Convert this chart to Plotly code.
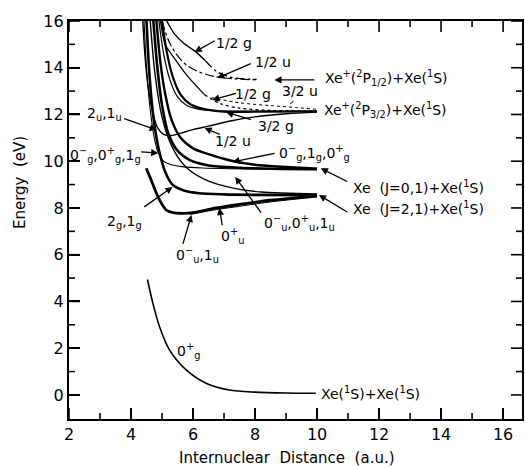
import plotly.graph_objects as go

# ---------------- data ----------------
ground_x = [4.53, 4.7, 4.92, 5.24, 5.78, 6.42, 7.17, 8.0, 9.0, 9.96]
ground_y = [4.94, 3.95, 2.92, 1.93, 1.07, 0.5, 0.21, 0.12, 0.08, 0.07]

bound_0u1u_x = [4.49, 4.65, 4.82, 4.98, 5.14, 5.35, 5.67, 6.0, 6.75, 7.5, 8.5, 10.0]
bound_0u1u_y = [9.7, 9.2, 8.63, 8.2, 7.91, 7.8, 7.77, 7.8, 8.0, 8.15, 8.33, 8.52]
thin_0u_x = [5.9, 6.75, 7.5, 8.5, 10.0]
thin_0u_y = [7.72, 7.93, 8.07, 8.26, 8.47]
rep_2g1g_x = [4.5, 4.6, 4.75, 4.95, 5.15, 5.35, 5.7, 6.2, 7.0, 8.0, 10.0]
rep_2g1g_y = [16.0, 13.6, 11.6, 10.2, 9.4, 8.98, 8.75, 8.63, 8.58, 8.56, 8.55]
rep_0u_x = [4.62, 4.75, 4.95, 5.2, 5.5, 5.9, 6.5, 7.3, 8.2, 10.0]
rep_0u_y = [16.0, 14.0, 12.2, 11.0, 10.2, 9.6, 9.15, 8.85, 8.68, 8.6]

rep_0g_a_x = [4.42, 4.5, 4.62, 4.75, 4.88, 5.05, 5.3, 5.7, 6.3, 7.2, 8.5, 10.0]
rep_0g_a_y = [16.0, 14.0, 12.2, 11.0, 10.35, 10.0, 9.85, 9.76, 9.71, 9.68, 9.66, 9.65]
rep_0g_b_x = [4.72, 4.85, 5.0, 5.2, 5.5, 5.9, 6.5, 7.5, 8.5, 10.0]
rep_0g_b_y = [16.0, 14.0, 12.4, 11.2, 10.45, 10.05, 9.82, 9.72, 9.68, 9.66]
rep_0g_c_x = [4.82, 4.95, 5.1, 5.3, 5.6, 6.0, 6.5, 7.2, 8.0, 10.0]
rep_0g_c_y = [16.0, 14.2, 12.9, 11.8, 11.0, 10.55, 10.3, 10.03, 9.85, 9.68]

bound_2u1u_x = [4.38, 4.45, 4.55, 4.7, 4.85, 5.05, 5.3, 5.6, 6.0, 6.5, 7.2, 8.0, 9.0, 10.0]
bound_2u1u_y = [16.0, 14.5, 13.2, 12.1, 11.45, 11.15, 11.1, 11.2, 11.35, 11.5, 11.72, 11.9, 12.03, 12.1]
rep_half_u_x = [4.9, 5.05, 5.25, 5.5, 5.8, 6.2, 6.8, 7.5, 8.5, 10.0]
rep_half_u_y = [16.0, 14.6, 13.5, 12.75, 12.38, 12.22, 12.16, 12.14, 12.13, 12.13]
rep_3g_x = [5.0, 5.15, 5.35, 5.6, 5.9, 6.3, 7.0, 8.0, 10.0]
rep_3g_y = [16.0, 14.7, 13.6, 12.85, 12.45, 12.25, 12.12, 12.12, 12.13]
rep_half_g_x = [4.95, 5.1, 5.4, 5.83, 6.37]
rep_half_g_y = [16.0, 15.0, 14.4, 13.63, 12.85]
rep_half_g_dot_x = [6.37, 6.9, 7.5, 8.5, 10.0]
rep_half_g_dot_y = [12.85, 12.45, 12.27, 12.17, 12.14]
rep_3u_x = [6.6, 7.5, 8.5, 9.3, 10.0]
rep_3u_y = [12.72, 12.5, 12.38, 12.3, 12.22]

top_half_g_x = [5.15, 5.4, 5.7, 6.05, 6.4]
top_half_g_y = [16.0, 15.45, 15.05, 14.72, 14.3]
top_half_g_dd_x = [6.4, 6.75, 7.2, 7.6, 8.05]
top_half_g_dd_y = [14.3, 13.85, 13.6, 13.53, 13.5]
top_half_u_x = [5.0, 5.2, 5.45, 5.8, 6.2, 6.7, 7.3, 8.05]
top_half_u_y = [16.0, 15.2, 14.6, 14.1, 13.82, 13.62, 13.53, 13.48]

# axis tick values
x_ticks = list(range(2, 17))
y_ticks = list(range(0, 17))

# ---------------- figure ----------------
FONT = "DejaVu Sans"
fig = go.Figure()

def add(x, y, w=1.3, dash="solid"):
    fig.add_trace(go.Scatter(x=x, y=y, mode="lines",
                             line=dict(color="black", width=w, dash=dash, shape="spline", smoothing=0.8),
                             showlegend=False, hoverinfo="skip"))

add(ground_x, ground_y, 1.6)
add(bound_0u1u_x, bound_0u1u_y, 2.8)
add(thin_0u_x, thin_0u_y, 1.0)
add(rep_2g1g_x, rep_2g1g_y, 2.6)
add(rep_0u_x, rep_0u_y, 1.4)
add(rep_0g_a_x, rep_0g_a_y, 1.1)
add(rep_0g_b_x, rep_0g_b_y, 2.6)
add(rep_0g_c_x, rep_0g_c_y, 2.4)
add(bound_2u1u_x, bound_2u1u_y, 1.4)
add(rep_half_u_x, rep_half_u_y, 1.2)
add(rep_3g_x, rep_3g_y, 2.2)
add(rep_half_g_x, rep_half_g_y, 1.3)
add(rep_half_g_dot_x, rep_half_g_dot_y, 1.3, "dot")
add(rep_3u_x, rep_3u_y, 1.0, "dot")
add(top_half_g_x, top_half_g_y, 1.4)
add(top_half_g_dd_x, top_half_g_dd_y, 1.3, "dashdot")
add(top_half_u_x, top_half_u_y, 1.2, "dashdot")

labels = [
    ("1/2 g", 7.33, 15.06, "center"),
    ("1/2 u", 8.58, 14.25, "center"),
    ("Xe<sup>+</sup>(<sup>2</sup>P<sub>1/2</sub>)+Xe(<sup>1</sup>S)", 10.2, 13.56, "left"),
    ("1/2 g", 7.94, 12.88, "center"),
    ("3/2 u", 9.45, 13.0, "center"),
    ("Xe<sup>+</sup>(<sup>2</sup>P<sub>3/2</sub>)+Xe(<sup>1</sup>S)", 10.16, 12.19, "left"),
    ("3/2 g", 8.68, 11.5, "center"),
    ("2<sub>u</sub>,1<sub>u</sub>", 3.16, 12.0, "center"),
    ("1/2 u", 7.3, 10.87, "center"),
    ("0<sup>−</sup><sub>g</sub>,0<sup>+</sup><sub>g</sub>,1<sub>g</sub>", 3.19, 10.27, "center"),
    ("0<sup>−</sup><sub>g</sub>,1<sub>g</sub>,0<sup>+</sup><sub>g</sub>", 9.93, 10.35, "center"),
    ("Xe  (J=0,1)+Xe(<sup>1</sup>S)", 11.09, 8.9, "left"),
    ("Xe  (J=2,1)+Xe(<sup>1</sup>S)", 11.09, 8.0, "left"),
    ("0<sup>−</sup><sub>u</sub>,0<sup>+</sup><sub>u</sub>,1<sub>u</sub>", 9.42, 7.36, "center"),
    ("2<sub>g</sub>,1<sub>g</sub>", 3.8, 7.4, "center"),
    ("0<sup>−</sup><sub>u</sub>,1<sub>u</sub>", 6.14, 5.99, "center"),
    ("0<sup>+</sup><sub>u</sub>", 7.27, 6.8, "center"),
    ("0<sup>+</sup><sub>g</sub>", 5.85, 1.88, "center"),
    ("Xe(<sup>1</sup>S)+Xe(<sup>1</sup>S)", 10.06, 0.08, "left"),
]
for t, x, y, xa in labels:
    fig.add_annotation(x=x, y=y, text=t, showarrow=False, xanchor=xa, yanchor="middle",
                       font=dict(family=FONT, size=14, color="black"))

arrows = [
    (6.75, 15.19, 6.05, 14.67),
    (7.91, 14.2, 6.78, 13.56),
    (9.96, 13.48, 8.62, 13.48),
    (7.43, 12.92, 6.62, 12.62),
    (7.91, 11.76, 7.07, 12.1),
    (3.73, 11.85, 4.83, 11.34),
    (6.91, 11.12, 6.37, 11.42),
    (4.28, 10.4, 4.88, 10.35),
    (8.68, 10.35, 7.27, 9.97),
    (11.02, 9.1, 10.12, 9.7),
    (11.02, 7.79, 10.06, 8.56),
    (8.23, 7.74, 7.36, 9.33),
    (4.38, 8.0, 5.34, 8.9),
    (5.66, 6.4, 5.95, 7.7),
    (6.95, 7.2, 6.85, 8.0),
]
for tx, ty, hx, hy in arrows:
    fig.add_annotation(x=hx, y=hy, ax=tx, ay=ty, xref="x", yref="y", axref="x", ayref="y",
                       text="", showarrow=True, arrowhead=2, arrowsize=1.1, arrowwidth=1.3,
                       arrowcolor="black")
fig.add_annotation(x=9.13, y=12.45, ax=9.29, ay=12.62, xref="x", yref="y", axref="x", ayref="y",
                   text="", showarrow=True, arrowhead=0, arrowwidth=1, arrowcolor="black")

fig.add_annotation(text="Energy  (eV)", xref="paper", yref="paper", x=-0.108, y=0.593,
                   xanchor="center", yanchor="middle",
                   textangle=-90, showarrow=False, font=dict(family=FONT, size=15, color="black"))
fig.add_annotation(text="Internuclear  Distance  (a.u.)", xref="paper", yref="paper", x=0.481, y=-0.098,
                   xanchor="center", yanchor="middle",
                   showarrow=False, font=dict(family=FONT, size=15, color="black"))

# inward tick marks on all four sides (major = even, minor = odd), drawn as pixel-sized shapes
for v in x_ticks:
    L = 11 if v % 2 == 0 else 6
    for anchor, sgn in ((0, 1), (1, -1)):
        fig.add_shape(type="line", xref="x", yref="paper", x0=v, x1=v,
                      ysizemode="pixel", yanchor=anchor, y0=0, y1=sgn * L,
                      line=dict(color="black", width=1.6))
for v in y_ticks:
    L = 11 if v % 2 == 0 else 6
    for anchor, sgn in ((0, 1), (1, -1)):
        fig.add_shape(type="line", yref="y", xref="paper", y0=v, y1=v,
                      xsizemode="pixel", xanchor=anchor, x0=0, x1=sgn * L,
                      line=dict(color="black", width=1.6))

fig.update_xaxes(range=[2, 16.61], showline=True, linecolor="black", linewidth=2.2, mirror=True,
                 ticks="inside", ticklen=11, tickwidth=1.6, tickcolor="black",
                 showgrid=False, zeroline=False, dtick=2, tick0=0,
                 tickfont=dict(family=FONT, size=16, color="black"))
fig.update_yaxes(range=[-1.03, 16], showline=True, linecolor="black", linewidth=2.2, mirror=True,
                 ticks="inside", ticklen=11, tickwidth=1.6, tickcolor="black",
                 showgrid=False, zeroline=False, dtick=2, tick0=0,
                 tickfont=dict(family=FONT, size=16, color="black"))

fig.update_layout(width=525, height=468, margin=dict(l=69, r=1, t=21, b=49),
                  plot_bgcolor="white", paper_bgcolor="white")
fig.write_html("out.html")
